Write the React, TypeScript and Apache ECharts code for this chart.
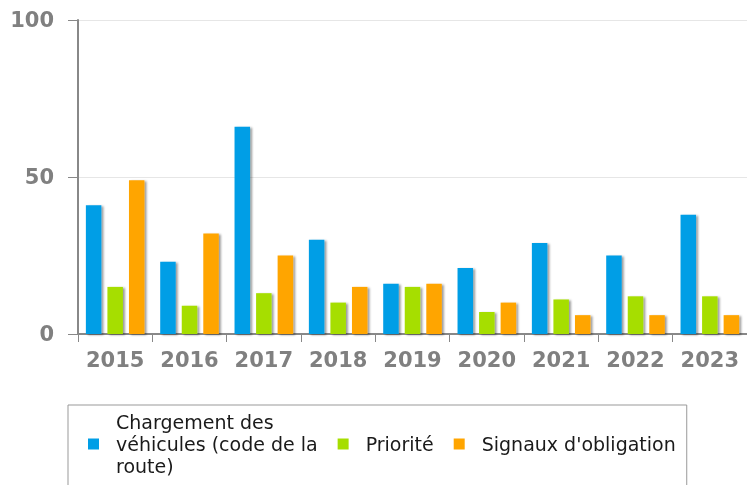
import React, { useEffect, useRef } from "react";
import * as echarts from "echarts";

const categories = ["2015", "2016", "2017", "2018", "2019", "2020", "2021", "2022", "2023"];
const seriesNames = [
  "Chargement des\nvéhicules (code de la\nroute)",
  "Priorité",
  "Signaux d'obligation",
];
const chargement = [41, 23, 66, 30, 16, 21, 29, 25, 38];
const priorite = [15, 9, 13, 10, 15, 7, 11, 12, 12];
const signaux = [49, 32, 25, 15, 16, 10, 6, 6, 6];
const yTicks = [0, 50, 100];

const colors = ["#009ee6", "#a6de00", "#ffa500"];

export default function App() {
  const ref = useRef<HTMLDivElement>(null);
  useEffect(() => {
    if (!ref.current) return;
    const chart = echarts.init(ref.current, null, { renderer: "svg" });
    const font = "'DejaVu Sans', Verdana, sans-serif";
    const barStyle = (c: string) => ({
      color: c,
      shadowColor: "rgba(0,0,0,0.4)",
      shadowBlur: 2,
      shadowOffsetX: 2,
      shadowOffsetY: 1,
    });
    const values = [chargement, priorite, signaux];
    chart.setOption({
      animation: false,
      grid: { left: 78, top: 20, width: 675, height: 314, containLabel: false },
      xAxis: {
        type: "category",
        data: categories,
        boundaryGap: true,
        axisLine: { show: true, lineStyle: { color: "#888", width: 2 } },
        axisTick: { show: true, interval: 0, length: 8, lineStyle: { color: "#888", width: 1 } },
        axisLabel: {
          interval: 0,
          hideOverlap: false,
          margin: 15,
          color: "#808080",
          fontSize: 21,
          fontWeight: "bold",
          fontFamily: font,
        },
      },
      yAxis: {
        type: "value",
        min: yTicks[0],
        max: yTicks[yTicks.length - 1],
        interval: yTicks[1] - yTicks[0],
        axisLine: { show: true, lineStyle: { color: "#888", width: 2 } },
        axisTick: { show: true, length: 10, lineStyle: { color: "#888", width: 1 } },
        splitLine: { show: true, lineStyle: { color: "#e6e6e6", width: 1 } },
        axisLabel: {
          margin: 24,
          color: "#808080",
          fontSize: 21,
          fontWeight: "bold",
          fontFamily: font,
        },
      },
      legend: {
        left: 68,
        top: 405,
        orient: "horizontal",
        borderColor: "#999",
        borderWidth: 1,
        padding: [6, 11, 14, 20],
        itemGap: 20,
        itemWidth: 11,
        itemHeight: 11,
        icon: "rect",
        data: seriesNames,
        textStyle: {
          fontSize: 19,
          lineHeight: 22,
          color: "#1a1a1a",
          fontFamily: font,
          padding: [0, 0, 0, 12],
        },
      },
      series: seriesNames.map((name, i) => ({
        name,
        type: "bar",
        data: values[i],
        barWidth: 15.5,
        barGap: "39%",
        itemStyle: barStyle(colors[i]),
      })),
    });
    return () => chart.dispose();
  }, []);
  return (
    <div
      ref={ref}
      style={{ position: "fixed", left: 0, top: 0, width: 747, height: 485 }}
    />
  );
}
